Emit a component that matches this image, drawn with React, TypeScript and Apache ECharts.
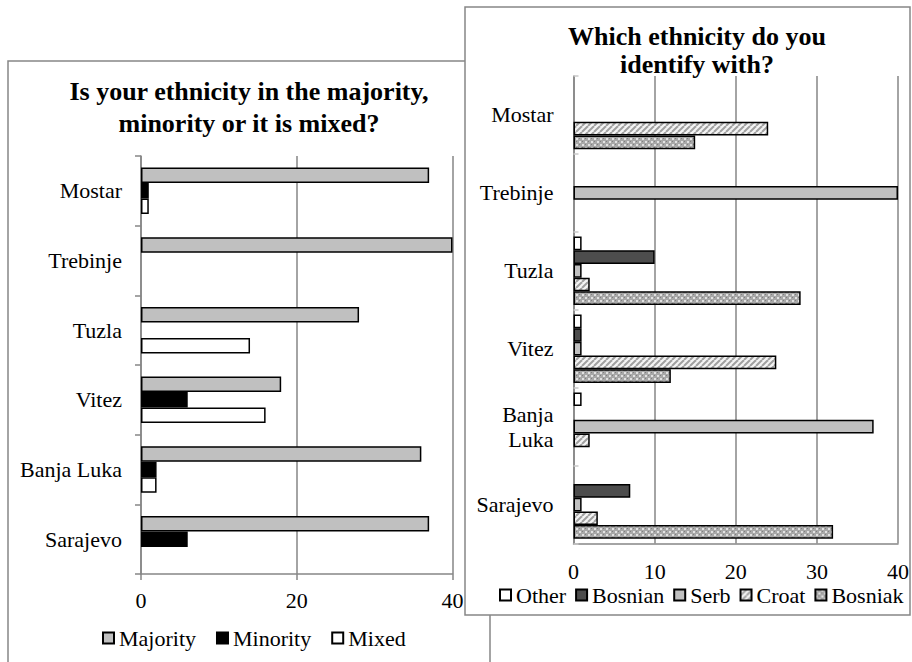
import React, { useEffect, useRef } from 'react';
import * as echarts from 'echarts';

// ---- Left chart data ----
const leftCategories = ['Mostar', 'Trebinje', 'Tuzla', 'Vitez', 'Banja Luka', 'Sarajevo'];
const majority = [37, 40, 28, 18, 36, 37];
const minority = [1, 0, 0, 6, 2, 6];
const mixed = [1, 0, 14, 16, 2, 0];
const leftTitleLines = ['Is your ethnicity in the majority,', 'minority or it is mixed?'];

// ---- Right chart data ----
const rightCategories = ['Mostar', 'Trebinje', 'Tuzla', 'Vitez', 'Banja\nLuka', 'Sarajevo'];
const other = [0, 0, 1, 1, 1, 0];
const bosnian = [0, 0, 10, 1, 0, 7];
const serb = [0, 40, 1, 1, 37, 1];
const croat = [24, 0, 2, 25, 2, 3];
const bosniak = [15, 0, 28, 12, 0, 32];
const rightTitleLines = ['Which ethnicity do you', 'identify with?'];

const FONT = "'Liberation Serif', 'Times New Roman', Times, serif";
const GRAY = '#868686';

function nz(arr: number[]) {
  return arr.map((v) => (v === 0 ? null : v));
}

function makeCroatPattern() {
  const c = document.createElement('canvas');
  c.width = 6;
  c.height = 6;
  const ctx = c.getContext('2d')!;
  ctx.fillStyle = '#f4f4f4';
  ctx.fillRect(0, 0, 6, 6);
  ctx.strokeStyle = '#a0a0a0';
  ctx.lineWidth = 2;
  for (const x of [-6, 0, 6]) {
    ctx.beginPath();
    ctx.moveTo(x, 6);
    ctx.lineTo(x + 6, 0);
    ctx.stroke();
  }
  return { image: c, repeat: 'repeat', imageWidth: 6, imageHeight: 6 };
}

function makeBosniakPattern() {
  const c = document.createElement('canvas');
  c.width = 6;
  c.height = 6;
  const ctx = c.getContext('2d')!;
  ctx.fillStyle = '#a8a8a8';
  ctx.fillRect(0, 0, 6, 6);
  ctx.fillStyle = '#e2e2e2';
  ctx.fillRect(0, 0, 2, 2);
  ctx.fillRect(3, 3, 2, 2);
  ctx.fillStyle = '#808080';
  ctx.fillRect(3, 0, 1, 1);
  ctx.fillRect(0, 3, 1, 1);
  return { image: c, repeat: 'repeat', imageWidth: 6, imageHeight: 6 };
}

export default function App() {
  const ref = useRef<HTMLDivElement>(null);

  useEffect(() => {
    if (!ref.current) return;
    const chart = echarts.init(ref.current, null, { renderer: 'svg' });

    const croatPattern = makeCroatPattern();
    const bosniakPattern = makeBosniakPattern();

    const titleStyle = {
      fontFamily: FONT,
      fontSize: 26,
      fontWeight: 'bold',
      color: '#000',
      lineHeight: 30,
    };
    const labelStyle = { fontFamily: FONT, fontSize: 22, color: '#000', lineHeight: 20 };

    const mkTitle = (text: string, cx: number, cy: number) => ({
      text,
      left: cx,
      top: cy - 15,
      padding: 0,
      textAlign: 'center',
      textStyle: titleStyle,
    });

    const barBorder = { borderColor: '#000', borderWidth: 1.5 };

    const option: any = {
      animation: false,
      backgroundColor: '#fff',
      textStyle: { fontFamily: FONT },
      title: [
        mkTitle(leftTitleLines[0], 249, 91),
        mkTitle(leftTitleLines[1], 249, 123),
        mkTitle(rightTitleLines[0], 697, 36),
        mkTitle(rightTitleLines[1], 697, 64),
      ],
      graphic: [
        {
          type: 'rect',
          z: -2,
          shape: { x: 8, y: 61, width: 482, height: 640 },
          style: { fill: '#fff', stroke: GRAY, lineWidth: 1.5 },
        },
        {
          type: 'rect',
          z: -1,
          shape: { x: 465, y: 7, width: 445, height: 608 },
          style: { fill: '#fff', stroke: GRAY, lineWidth: 1.5 },
        },
      ],
      legend: [
        {
          left: 102,
          top: 627,
          itemWidth: 11,
          itemHeight: 11,
          itemGap: 20,
          padding: 0,
          icon: 'rect',
          textStyle: labelStyle,
          data: ['Majority', 'Minority', 'Mixed'],
        },
        {
          left: 499,
          top: 584,
          itemWidth: 11,
          itemHeight: 11,
          itemGap: 9,
          padding: 0,
          icon: 'rect',
          textStyle: labelStyle,
          data: ['Other', 'Bosnian', 'Serb', 'Croat', 'Bosniak'],
        },
      ],
      grid: [
        { left: 141, top: 156, width: 311.5, height: 418, containLabel: false },
        { left: 573.5, top: 76, width: 325, height: 467.5, containLabel: false },
      ],
      xAxis: [
        {
          type: 'value',
          gridIndex: 0,
          min: 0,
          max: 40,
          interval: 20,
          axisLine: { show: true, lineStyle: { color: GRAY, width: 1.5 } },
          axisTick: { show: true, length: 6, lineStyle: { color: GRAY, width: 1.5 } },
          splitLine: { show: true, lineStyle: { color: GRAY, width: 1.5 } },
          axisLabel: { ...labelStyle, margin: 16 },
        },
        {
          type: 'value',
          gridIndex: 1,
          min: 0,
          max: 40,
          interval: 10,
          axisLine: { show: true, lineStyle: { color: GRAY, width: 1.5 } },
          axisTick: { show: false },
          splitLine: { show: true, lineStyle: { color: GRAY, width: 1.5 } },
          axisLabel: { ...labelStyle, margin: 18 },
        },
      ],
      yAxis: [
        {
          type: 'category',
          gridIndex: 0,
          inverse: true,
          data: leftCategories,
          axisLine: { show: true, lineStyle: { color: GRAY, width: 1.5 } },
          axisTick: { show: true, length: 6, lineStyle: { color: GRAY, width: 1.5 } },
          axisLabel: { ...labelStyle, margin: 19 },
        },
        {
          type: 'category',
          gridIndex: 1,
          inverse: true,
          data: rightCategories,
          axisLine: { show: true, lineStyle: { color: GRAY, width: 1.5 } },
          axisTick: { show: true, inside: true, length: 5, lineStyle: { color: '#c8c8c8', width: 1.5 } },
          axisLabel: { ...labelStyle, margin: 20, lineHeight: 25 },
        },
      ],
      series: [
        {
          name: 'Majority', type: 'bar', xAxisIndex: 0, yAxisIndex: 0,
          barWidth: 15.5, barGap: '0%', data: nz(majority),
          itemStyle: { color: '#c0c0c0', ...barBorder },
        },
        {
          name: 'Minority', type: 'bar', xAxisIndex: 0, yAxisIndex: 0,
          barWidth: 15.5, barGap: '0%', data: nz(minority),
          itemStyle: { color: '#000', ...barBorder },
        },
        {
          name: 'Mixed', type: 'bar', xAxisIndex: 0, yAxisIndex: 0,
          barWidth: 15.5, barGap: '0%', data: nz(mixed),
          itemStyle: { color: '#fff', ...barBorder },
        },
        {
          name: 'Other', type: 'bar', xAxisIndex: 1, yAxisIndex: 1,
          barWidth: 13.7, barGap: '0%', data: nz(other),
          itemStyle: { color: '#fff', ...barBorder },
        },
        {
          name: 'Bosnian', type: 'bar', xAxisIndex: 1, yAxisIndex: 1,
          barWidth: 13.7, barGap: '0%', data: nz(bosnian),
          itemStyle: { color: '#4d4d4d', ...barBorder },
        },
        {
          name: 'Serb', type: 'bar', xAxisIndex: 1, yAxisIndex: 1,
          barWidth: 13.7, barGap: '0%', data: nz(serb),
          itemStyle: { color: '#c0c0c0', ...barBorder },
        },
        {
          name: 'Croat', type: 'bar', xAxisIndex: 1, yAxisIndex: 1,
          barWidth: 13.7, barGap: '0%', data: nz(croat),
          itemStyle: { color: croatPattern, ...barBorder },
        },
        {
          name: 'Bosniak', type: 'bar', xAxisIndex: 1, yAxisIndex: 1,
          barWidth: 13.7, barGap: '0%', data: nz(bosniak),
          itemStyle: { color: bosniakPattern, ...barBorder },
        },
      ],
    };

    chart.setOption(option);
    return () => {
      chart.dispose();
    };
  }, []);

  return (
    <div
      ref={ref}
      style={{ position: 'absolute', left: 0, top: 0, width: 912, height: 662 }}
    />
  );
}
